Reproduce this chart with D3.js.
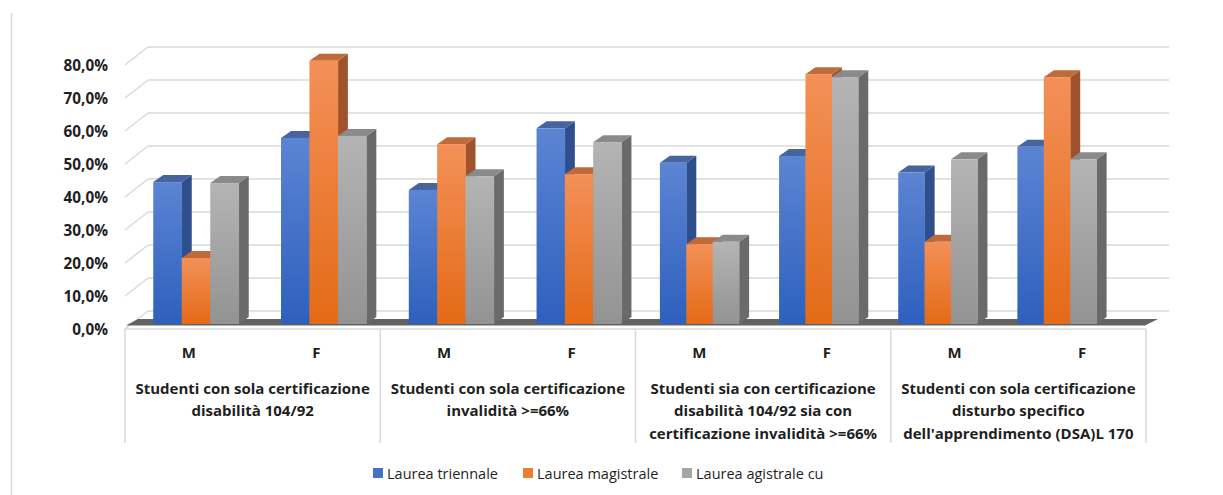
<!DOCTYPE html>
<html>
<head>
<meta charset="utf-8">
<script src="https://cdn.jsdelivr.net/npm/d3@7"></script>
<style>
body { margin: 0; background: #fff; }
text { font-family: "Open Sans", "Noto Sans", sans-serif; fill: #1f1f1f; }
</style>
</head>
<body>
<svg id="chart" width="1223" height="495"></svg>
<script>

// data (percent)
var groupLabels = [
    ["Studenti con sola certificazione", "disabilità 104/92"],
    ["Studenti con sola certificazione", "invalidità >=66%"],
    ["Studenti sia con certificazione", "disabilità 104/92 sia con", "certificazione invalidità >=66%"],
    ["Studenti con sola certificazione", "disturbo specifico", "dell'apprendimento (DSA)L 170"]
];
var genders = ["M", "F"];
var seriesNames = ["Laurea triennale", "Laurea magistrale", "Laurea agistrale cu"];
var triennale  = [43.0, 56.4, 40.6, 59.3, 48.9, 50.9, 45.9, 53.7];
var magistrale = [20.0, 79.8, 54.5, 45.4, 24.2, 75.7, 24.9, 74.8];
var cicloUnico = [42.7, 57.0, 44.8, 55.1, 24.9, 74.8, 49.9, 49.9];
var yTicks = [0, 10, 20, 30, 40, 50, 60, 70, 80];

var series = [triennale, magistrale, cicloUnico];

// colours: front gradient top/bottom, side, top
var palette = [
    {top: "#5c84d3", bottom: "#2d60bd", side: "#2f4f8c", cap: "#46659f", key: "#4472c4"},
    {top: "#f39058", bottom: "#e46a16", side: "#a0532b", cap: "#bf6a3b", key: "#ed7d31"},
    {top: "#b4b4b4", bottom: "#939393", side: "#6a6a6a", cap: "#8a8a8a", key: "#a5a5a5"}
];

//////////////////////////////////////////////////////////////////////////////

var svg = d3.select("#chart");

var yFront = d3.scaleLinear().domain([0, 80]).range([329, 65]);
var yBack  = d3.scaleLinear().domain([0, 80]).range([311, 47]);
var yBar   = d3.scaleLinear().domain([0, 80]).range([324, 60]);

var xGroup = d3.scaleBand().domain(d3.range(groupLabels.length)).range([125, 1146]);
var xSub   = d3.scaleBand().domain(genders).range([0, xGroup.bandwidth()]);

// bars sit further back, a little squeezed on the right
var xBar = d3.scaleLinear().domain([0, 3, 4, 7]).range([196, 579, 699.5, 1057]);
var wBar = d3.scaleLinear().domain([0, 3, 4, 7]).range([28.5, 28.3, 26.4, 26.4]);

var wallDx = 23, barDx = 10, barDy = 7;

var defs = svg.append("defs");
palette.forEach(function(p, i) {
    var g = defs.append("linearGradient")
        .attr("id", "grad" + i)
        .attr("x1", 0).attr("y1", 0).attr("x2", 0).attr("y2", 1);
    g.append("stop").attr("offset", "0%").attr("stop-color", p.top);
    g.append("stop").attr("offset", "100%").attr("stop-color", p.bottom);
});

// outer left border
svg.append("line")
    .attr("x1", 11.5).attr("x2", 11.5).attr("y1", 13).attr("y2", 495)
    .attr("stroke", "#d9d9d9").attr("stroke-width", 1.5);

// back wall gridlines and side wall diagonals
svg.append("g").selectAll("line.back")
    .data(yTicks).enter().append("line")
    .attr("x1", 125 + wallDx).attr("x2", 1146 + wallDx)
    .attr("y1", function(d) { return yBack(d); })
    .attr("y2", function(d) { return yBack(d); })
    .attr("stroke", "#d9d9d9").attr("stroke-width", 1.5);

svg.append("g").selectAll("line.side")
    .data(yTicks).enter().append("line")
    .attr("x1", 125).attr("x2", 125 + wallDx)
    .attr("y1", function(d) { return yFront(d); })
    .attr("y2", function(d) { return yBack(d); })
    .attr("stroke", "#d9d9d9").attr("stroke-width", 1.5);

// floor slab
svg.append("path")
    .attr("d", "M126,325.5 L1145,325.5 L1158,319 L138,319 Z")
    .attr("fill", "#636363");

// y labels
svg.append("g").selectAll("text")
    .data(yTicks).enter().append("text")
    .attr("x", 108)
    .attr("y", function(d) { return yFront(d) + 5.5; })
    .attr("text-anchor", "end")
    .style("font-size", "15.3px").style("font-weight", "bold")
    .text(function(d) { return d3.format(".1f")(d).replace(".", ",") + "%"; });

// bars
var bars = [];
series.forEach(function(vals, s) {
    vals.forEach(function(v, i) {
        bars.push({s: s, i: i, v: v});
    });
});
bars.sort(function(a, b) { return a.i - b.i || a.s - b.s; });

var barG = svg.append("g").selectAll("g")
    .data(bars).enter().append("g");

function barX(d) { return xBar(d.i) - 1.5 * wBar(d.i) + d.s * wBar(d.i); }

barG.append("path")
    .attr("fill", function(d) { return palette[d.s].side; })
    .attr("d", function(d) {
        var x = barX(d) + wBar(d.i), yt = yBar(d.v), yb = yBar(0);
        return "M" + x + "," + yt + " L" + (x + barDx) + "," + (yt - barDy) +
            " L" + (x + barDx) + "," + (yb - barDy) + " L" + x + "," + yb + " Z";
    });

barG.append("path")
    .attr("fill", function(d) { return palette[d.s].cap; })
    .attr("d", function(d) {
        var x = barX(d), w = wBar(d.i), yt = yBar(d.v);
        return "M" + x + "," + yt + " L" + (x + w) + "," + yt +
            " L" + (x + w + barDx) + "," + (yt - barDy) + " L" + (x + barDx) + "," + (yt - barDy) + " Z";
    });

barG.append("rect")
    .attr("x", barX)
    .attr("y", function(d) { return yBar(d.v); })
    .attr("width", function(d) { return wBar(d.i) + 0.3; })
    .attr("height", function(d) { return yBar(0) - yBar(d.v); })
    .attr("fill", function(d) { return "url(#grad" + d.s + ")"; });

// category axis box
var axisG = svg.append("g");
axisG.append("line")
    .attr("x1", 125).attr("x2", 1146).attr("y1", 329).attr("y2", 329)
    .attr("stroke", "#d9d9d9").attr("stroke-width", 1.5);
axisG.selectAll("line.sep")
    .data(d3.range(groupLabels.length + 1)).enter().append("line")
    .attr("x1", function(d) { return 125 + d * xGroup.step(); })
    .attr("x2", function(d) { return 125 + d * xGroup.step(); })
    .attr("y1", 329).attr("y2", 443)
    .attr("stroke", "#d9d9d9").attr("stroke-width", 1.5);

var catG = axisG.selectAll("g.cat")
    .data(groupLabels).enter().append("g")
    .attr("transform", function(d, i) { return "translate(" + xGroup(i) + ",0)"; });

catG.selectAll("text.g")
    .data(genders).enter().append("text")
    .attr("x", function(d) { return xSub(d) + xSub.bandwidth() / 2; })
    .attr("y", 357.5)
    .attr("text-anchor", "middle")
    .style("font-size", "15px").style("font-weight", "bold")
    .text(function(d) { return d; });

catG.selectAll("text.l")
    .data(function(d) { return d; }).enter().append("text")
    .attr("x", xGroup.bandwidth() / 2)
    .attr("y", function(d, j) { return 393.5 + j * 22.5; })
    .attr("text-anchor", "middle")
    .style("font-size", "15px").style("font-weight", "bold")
    .text(function(d) { return d; });

// legend
var legendX = [373, 523, 682];
var legend = svg.append("g").selectAll("g")
    .data(seriesNames).enter().append("g")
    .attr("transform", function(d, i) { return "translate(" + legendX[i] + ",468)"; });
legend.append("rect")
    .attr("width", 10).attr("height", 10)
    .attr("fill", function(d, i) { return palette[i].key; });
legend.append("text")
    .attr("x", 14).attr("y", 10.5)
    .style("font-size", "14.5px")
    .text(function(d) { return d; });

</script>
</body>
</html>
